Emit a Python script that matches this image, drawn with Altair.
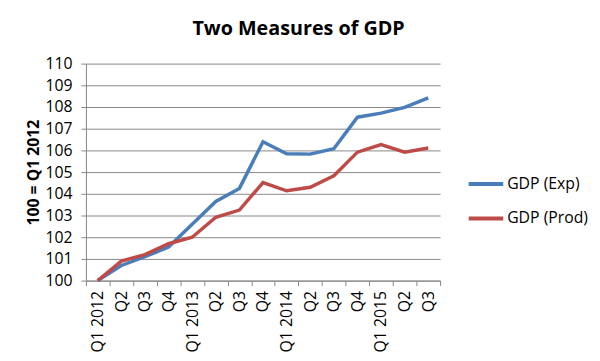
import altair as alt
import pandas as pd

quarters = ["Q1 2012", "Q2 2012", "Q3 2012", "Q4 2012",
            "Q1 2013", "Q2 2013", "Q3 2013", "Q4 2013",
            "Q1 2014", "Q2 2014", "Q3 2014", "Q4 2014",
            "Q1 2015", "Q2 2015", "Q3 2015"]
gdp_exp = [100.0, 100.7, 101.1, 101.55, 102.6, 103.65, 104.25, 106.4,
           105.85, 105.83, 106.08, 107.53, 107.72, 107.98, 108.42]
gdp_prod = [100.0, 100.9, 101.2, 101.7, 102.0, 102.92, 103.25, 104.52,
            104.14, 104.3, 104.83, 105.92, 106.27, 105.92, 106.11]
series_names = ["GDP (Exp)", "GDP (Prod)"]
series_colors = ["#4A7EBB", "#BE4B48"]

rows = []
for q, e, p in zip(quarters, gdp_exp, gdp_prod):
    rows.append({"quarter": q, "series": series_names[0], "value": e})
    rows.append({"quarter": q, "series": series_names[1], "value": p})
df = pd.DataFrame(rows)

FONT = "Open Sans"

chart = alt.Chart(df).mark_line(strokeWidth=3.5).encode(
    x=alt.X("quarter:N", sort=quarters,
            scale=alt.Scale(type="band", paddingInner=0, paddingOuter=0),
            axis=alt.Axis(title=None, labelAngle=-90, tickBand="extent",
                          labelExpr="indexof(datum.label,'Q1')==0 ? datum.label : slice(datum.label,0,2)",
                          labelFontSize=16, labelColor="#000000", labelPadding=5,
                          tickSize=5, tickColor="#868686", domainColor="#868686",
                          labelAlign="right", labelBaseline="middle")),
    y=alt.Y("value:Q", scale=alt.Scale(domain=[100, 110], nice=False, zero=False),
            axis=alt.Axis(title="100 = Q1 2012", values=list(range(100, 111)),
                          titleFontSize=16, titleFontWeight="bold", titleColor="#000000",
                          labelFontSize=16, labelColor="#000000", labelPadding=9,
                          tickSize=5, tickColor="#868686", domainColor="#868686",
                          gridColor="#878787", gridWidth=1, titlePadding=4)),
    color=alt.Color("series:N", sort=series_names,
                    scale=alt.Scale(domain=series_names, range=series_colors),
                    legend=alt.Legend(title=None, orient="none", legendX=386, legendY=112,
                                      symbolType="stroke", symbolSize=1225,
                                      symbolStrokeWidth=4, labelFontSize=16,
                                      labelColor="#000000", rowPadding=15,
                                      clipHeight=20, labelOffset=2)),
).properties(
    width=359, height=220,
    title=alt.TitleParams("Two Measures of GDP", fontSize=20, fontWeight="bold",
                          font=FONT, color="#000000", dx=36, offset=17),
    padding={"left": 79, "top": 54, "right": 154, "bottom": 71},
    autosize=alt.AutoSizeParams(type="none"),
).configure(font=FONT).configure_view(stroke=None).configure_axis(
    labelFont=FONT, titleFont=FONT
).configure_legend(labelFont=FONT)

chart.save("out.html", embed_options={"renderer": "svg", "actions": False})
